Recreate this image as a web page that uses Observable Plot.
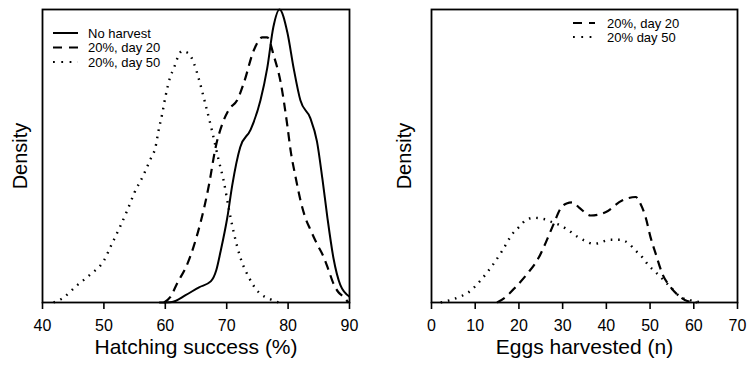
<!DOCTYPE html>
<html>
<head>
<meta charset="utf-8">
<script src="https://cdn.jsdelivr.net/npm/d3@7"></script>
<script src="https://cdn.jsdelivr.net/npm/@observablehq/plot@0.6"></script>
<style>
  html, body { margin: 0; padding: 0; background: #fff; }
  #wrap { display: flex; width: 747px; height: 368px; }
</style>
</head>
<body>
<div id="wrap"></div>
<script>
// ---------- Data ----------
// Left panel: hatching success (%) densities (scaled so the plot top = 1)
const leftTicks = [40, 50, 60, 70, 80, 90];
const leftSeries = ["No harvest", "20%, day 20", "20%, day 50"];

const noHarvestX = [59, 61.1, 63.3, 65.5, 67.4, 68.3, 69.0, 70.1, 70.9, 72.2, 73.9, 75.5, 76.6, 77.6, 78.6, 79.9, 80.9, 82.0, 83.6, 84.7, 85.6, 86.4, 87.4, 88.5, 90];
const noHarvestY = [0, 0.002, 0.025, 0.052, 0.072, 0.11, 0.174, 0.29, 0.40, 0.53, 0.59, 0.69, 0.80, 0.94, 1.0, 0.92, 0.80, 0.69, 0.63, 0.55, 0.42, 0.29, 0.15, 0.06, 0.02];

const day20LeftX = [59.8, 60.8, 61.9, 63.6, 64.6, 65.7, 66.4, 67.1, 68.2, 69.3, 70.4, 71.7, 72.8, 74.4, 75.8, 76.6, 77.7, 78.8, 79.9, 80.4, 81.2, 82.0, 82.8, 83.6, 84.7, 85.8, 86.6, 87.4, 88.2, 89.1, 89.8];
const day20LeftY = [0, 0.018, 0.064, 0.132, 0.19, 0.27, 0.33, 0.40, 0.53, 0.61, 0.66, 0.69, 0.75, 0.86, 0.905, 0.905, 0.84, 0.75, 0.60, 0.52, 0.43, 0.35, 0.29, 0.25, 0.20, 0.155, 0.11, 0.064, 0.035, 0.018, 0];

const day50LeftX = [41.8, 43.3, 45.6, 47.8, 50.0, 51.3, 52.6, 53.8, 55.0, 56.4, 57.6, 58.4, 58.9, 59.5, 60.0, 60.8, 61.4, 61.9, 62.7, 63.8, 64.6, 65.5, 66.5, 67.6, 68.7, 69.5, 70.3, 71.2, 72.2, 73.6, 75.2, 76.9, 78.5];
const day50LeftY = [0, 0.015, 0.058, 0.096, 0.143, 0.20, 0.257, 0.314, 0.376, 0.433, 0.49, 0.53, 0.587, 0.644, 0.70, 0.77, 0.80, 0.83, 0.858, 0.85, 0.82, 0.76, 0.68, 0.587, 0.485, 0.416, 0.325, 0.234, 0.155, 0.086, 0.035, 0.013, 0];

// Right panel: eggs harvested (n) densities (same vertical scaling)
const rightTicks = [0, 10, 20, 30, 40, 50, 60, 70];
const rightSeries = ["20%, day 20", "20% day 50"];

const day20RightX = [15.0, 16.9, 19.2, 21.9, 24.6, 26.5, 28.0, 29.5, 30.9, 32.2, 33.7, 36.4, 39.8, 43.6, 46.7, 47.8, 49.0, 50.1, 51.3, 52.8, 54.7, 57.0, 58.5, 60.8];
const day20RightY = [0, 0.018, 0.052, 0.098, 0.155, 0.217, 0.27, 0.32, 0.338, 0.342, 0.325, 0.297, 0.308, 0.348, 0.36, 0.337, 0.29, 0.223, 0.166, 0.098, 0.052, 0.018, 0.005, 0];

const day50RightX = [2.1, 6.2, 8.5, 11.2, 13.9, 16.2, 18.5, 20.0, 21.5, 23.4, 25.7, 27.6, 29.5, 31.4, 33.3, 34.9, 37.1, 41.0, 43.2, 45.2, 46.7, 48.2, 49.7, 51.3, 52.8, 54.7, 57.0, 59.3, 61.9];
const day50RightY = [0, 0.018, 0.035, 0.075, 0.126, 0.177, 0.234, 0.257, 0.28, 0.289, 0.285, 0.274, 0.263, 0.246, 0.225, 0.212, 0.2, 0.214, 0.214, 0.2, 0.177, 0.155, 0.126, 0.103, 0.081, 0.052, 0.018, 0.007, 0];

// ---------- Helpers ----------
const FONT = "'Liberation Sans', Arial, Helvetica, sans-serif";
const toRows = (xs, ys) => xs.map((x, i) => ({x, y: ys[i]}));
const styles = {
  solid: {strokeWidth: 2},
  dashed: {strokeWidth: 2.2, strokeDasharray: "9,6"},
  dotted: {strokeWidth: 2.4, strokeDasharray: "1.6,5.8"}
};

function panel({width, marginLeft, marginRight, domain, ticks, series, xLabel, densityDx}) {
  const svg = Plot.plot({
    width, height: 368,
    marginLeft, marginRight, marginTop: 9, marginBottom: 66,
    style: {fontFamily: FONT, background: "#fff", color: "#000"},
    x: {domain},
    y: {domain: [0, 1], axis: null},
    marks: [
      ...series.map(s => Plot.line(s.rows, {x: "x", y: "y", stroke: "#000", curve: "monotone-x", strokeLinecap: "butt", ...styles[s.style]})),
      Plot.axisX(ticks, {tickSize: 7, tickPadding: 10, fontSize: 16, label: null, strokeWidth: 1.6}),
      Plot.frame({stroke: "#000", strokeWidth: 1.8}),
      Plot.text(["Density"], {frameAnchor: "left", dx: densityDx, rotate: -90, textAnchor: "middle", lineAnchor: "middle", fontSize: 20, fill: "#000"}),
      Plot.text([xLabel], {frameAnchor: "bottom", dy: 45, textAnchor: "middle", lineAnchor: "middle", fontSize: 21, fill: "#000"})
    ]
  });
  return svg;
}

function addLegend(svg, items, {x0, x1, tx, y0, step}) {
  const g = d3.select(svg).append("g")
    .attr("font-family", FONT).attr("font-size", 13).attr("text-anchor", "start");
  items.forEach((it, i) => {
    const y = y0 + i * step;
    const st = it.style === "solid" ? {w: 2, d: null}
      : it.style === "dashed" ? {w: 2.2, d: "9,7"} : {w: 2.2, d: "1.8,6.5"};
    g.append("line").attr("x1", x0).attr("x2", x1).attr("y1", y).attr("y2", y)
      .attr("stroke", "#000").attr("stroke-width", st.w).attr("stroke-dasharray", st.d);
    g.append("text").attr("x", tx).attr("y", y).attr("dy", "0.35em")
      .attr("text-anchor", "start").attr("fill", "#000").text(it.label);
  });
}

// ---------- Left panel ----------
const leftData = [
  {label: leftSeries[0], style: "solid", rows: toRows(noHarvestX, noHarvestY)},
  {label: leftSeries[1], style: "dashed", rows: toRows(day20LeftX, day20LeftY)},
  {label: leftSeries[2], style: "dotted", rows: toRows(day50LeftX, day50LeftY)}
];
const left = panel({
  width: 374, marginLeft: 42, marginRight: 25,
  domain: [40, 90], ticks: leftTicks, series: leftData,
  xLabel: "Hatching success (%)", densityDx: -22
});
addLegend(left, leftData, {x0: 53, x1: 78, tx: 88, y0: 33, step: 14.5});

// ---------- Right panel ----------
const rightData = [
  {label: rightSeries[0], style: "dashed", rows: toRows(day20RightX, day20RightY)},
  {label: rightSeries[1], style: "dotted", rows: toRows(day50RightX, day50RightY)}
];
const right = panel({
  width: 373, marginLeft: 57, marginRight: 10,
  domain: [0, 70], ticks: rightTicks, series: rightData,
  xLabel: "Eggs harvested (n)", densityDx: -27
});
addLegend(right, rightData, {x0: 199, x1: 221, tx: 233, y0: 23, step: 14});

document.getElementById("wrap").append(left, right);
</script>
</body>
</html>
